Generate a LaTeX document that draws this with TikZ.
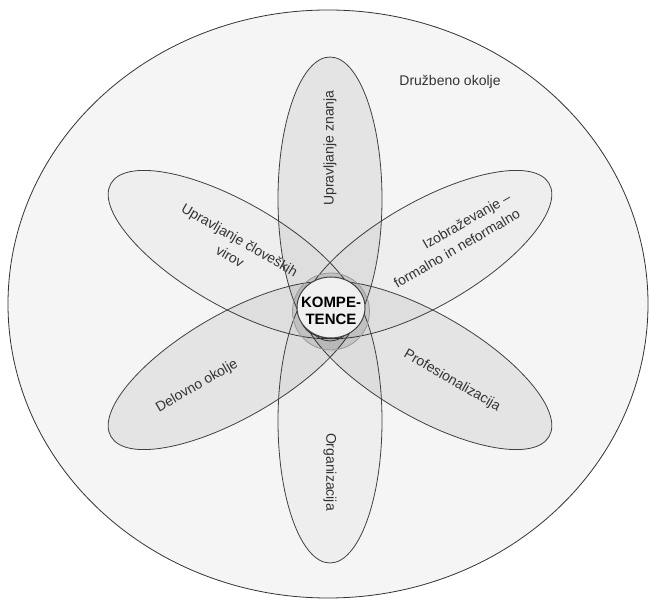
\documentclass[tikz,border=0pt]{standalone}
\usepackage{fontspec}
\setmainfont{Liberation Sans}
\usetikzlibrary{shapes.geometric}
\begin{document}
\begin{tikzpicture}[x=1pt,y=1pt,
  petal/.style={ellipse, minimum width=284pt, minimum height=104pt, inner sep=0pt, draw=black!75, line width=0.8pt, fill=black},
  darkpetal/.style={petal, fill opacity=0.065},
  lightpetal/.style={petal, fill opacity=0.028},
  lbl/.style={font=\fontsize{14}{19}\selectfont, text=black!80, align=center, inner sep=0pt},
]
\useasboundingbox (0,0) rectangle (651,-601);
\node[ellipse, minimum width=640pt, minimum height=588pt, draw=black!80, line width=0.8pt, fill=black!4, inner sep=0pt] (env) at (328,-304) {};
% petals
\node[lightpetal, rotate=-30] (hr) at (233.9,-254.5) {};
\node[lightpetal, rotate=30] (edu) at (426.1,-254.5) {};
\node[darkpetal, rotate=30] (work) at (233.9,-365.5) {};
\node[darkpetal, rotate=-30] (prof) at (426.1,-365.5) {};
\node[darkpetal, rotate=90] (know) at (330,-199) {};
\node[lightpetal, rotate=90] (org) at (330,-421) {};
% labels
\node[lbl, rotate=90] (tknow) at (330,-148) {Upravljanje znanja};
\node[lbl, rotate=-90] (torg) at (330,-472) {Organizacija};
\node[lbl, rotate=-30] (thr) at (235,-248) {Upravljanje človeških\\virov};
\node[lbl, rotate=30, align=right] (tedu) at (452,-240) {Izobraževanje –\\formalno in neformalno};
\node[lbl, rotate=30] (twork) at (197,-386) {Delovno okolje};
\node[lbl, rotate=-30] (tprof) at (452,-381) {Profesionalizacija};
\node[lbl] (tenv) at (450,-82) {Družbeno okolje};
% centre
\node[circle, minimum size=77pt, inner sep=0pt, fill=black, fill opacity=0.1, draw=black!40, line width=0.8pt] (shadow) at (331,-311.5) {};
\node[ellipse, minimum width=68pt, minimum height=61pt, inner sep=0pt, fill=black!6, draw=black!75, line width=1pt] (komp) at (331,-307.5) {};
\node[font=\bfseries\fontsize{15}{17.5}\selectfont, align=center, inner sep=0pt] (tkomp) at (331,-311) {KOMPE-\\TENCE};
\end{tikzpicture}
\end{document}
